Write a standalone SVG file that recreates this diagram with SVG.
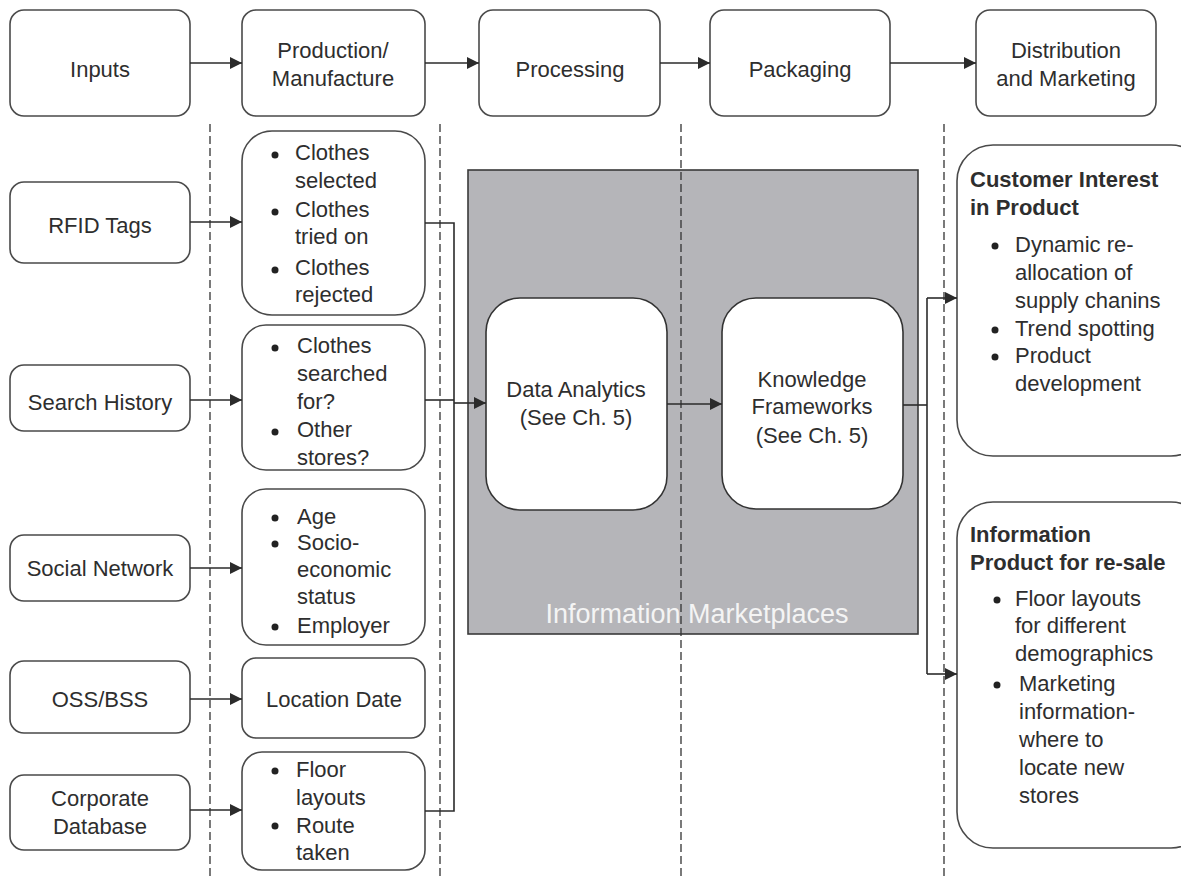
<svg xmlns="http://www.w3.org/2000/svg" width="1181" height="877" viewBox="0 0 1181 877">
<defs>
<marker id="ah" viewBox="0 0 10 10" refX="10" refY="5" markerWidth="12" markerHeight="12" markerUnits="userSpaceOnUse" orient="auto">
<path d="M0,0 L10,5 L0,10 z" fill="#2b2b2b"/>
</marker>
<style>
.box{fill:#fff;stroke:#4a4a4a;stroke-width:1.6}
.t{font-family:"Liberation Sans",Arial,sans-serif;font-size:22px;fill:#2e2e2e}
.b{font-weight:bold}
.c{text-anchor:middle}
.ln{fill:none;stroke:#2b2b2b;stroke-width:1.6}
.ar{fill:none;stroke:#2b2b2b;stroke-width:1.6;marker-end:url(#ah)}
.dash{stroke:#333;stroke-width:1.3;stroke-dasharray:8,4}
</style>
</defs>
<rect width="1181" height="877" fill="#fff"/>

<g id="infomarket">
<rect x="468" y="170" width="450" height="464" fill="#b5b5b9" stroke="#3a3a3a" stroke-width="1.6"/>
<text class="t c" x="697" y="623" style="font-size:27px;fill:#f4f4f4">Information Marketplaces</text>
</g>

<g id="dashed">
<line class="dash" x1="210" y1="124" x2="210" y2="877"/>
<line class="dash" x1="440" y1="124" x2="440" y2="877"/>
<line class="dash" x1="681" y1="124" x2="681" y2="877"/>
<line class="dash" x1="944" y1="124" x2="944" y2="877"/>
</g>

<g id="inputs"><rect class="box" x="10" y="10" width="180" height="106" rx="14"/><text class="t c" x="100" y="77">Inputs</text></g>
<g id="production"><rect class="box" x="242" y="10" width="183" height="106" rx="14"/><text class="t c" x="333" y="58">Production/</text><text class="t c" x="333" y="86">Manufacture</text></g>
<g id="processing"><rect class="box" x="479" y="10" width="181" height="106" rx="14"/><text class="t c" x="570" y="77">Processing</text></g>
<g id="packaging"><rect class="box" x="710" y="10" width="180" height="106" rx="14"/><text class="t c" x="800" y="77">Packaging</text></g>
<g id="distribution"><rect class="box" x="976" y="10" width="180" height="106" rx="14"/><text class="t c" x="1066" y="58">Distribution</text><text class="t c" x="1066" y="86">and Marketing</text></g>

<g id="rfid"><rect class="box" x="10" y="182" width="180" height="81" rx="14"/><text class="t c" x="100" y="233">RFID Tags</text></g>
<g id="search"><rect class="box" x="10" y="365" width="180" height="66" rx="14"/><text class="t c" x="100" y="410">Search History</text></g>
<g id="social"><rect class="box" x="10" y="535" width="180" height="66" rx="14"/><text class="t c" x="100" y="576">Social Network</text></g>
<g id="oss"><rect class="box" x="10" y="661" width="180" height="72" rx="14"/><text class="t c" x="100" y="707">OSS/BSS</text></g>
<g id="corpdb"><rect class="box" x="10" y="775" width="180" height="75" rx="14"/><text class="t c" x="100" y="806">Corporate</text><text class="t c" x="100" y="834">Database</text></g>

<g id="clothes">
<rect class="box" x="242" y="131" width="183" height="184" rx="30"/>
<circle cx="275" cy="155" r="3.5" fill="#222"/><circle cx="275" cy="212" r="3.5" fill="#222"/><circle cx="275" cy="270" r="3.5" fill="#222"/>
<text class="t" x="295" y="160">Clothes</text><text class="t" x="295" y="188">selected</text>
<text class="t" x="295" y="217">Clothes</text><text class="t" x="295" y="244">tried on</text>
<text class="t" x="295" y="275">Clothes</text><text class="t" x="295" y="302">rejected</text>
</g>
<g id="searched">
<rect class="box" x="242" y="325" width="183" height="145" rx="24"/>
<circle cx="275" cy="348" r="3.5" fill="#222"/><circle cx="275" cy="432" r="3.5" fill="#222"/>
<text class="t" x="297" y="353">Clothes</text><text class="t" x="297" y="381">searched</text><text class="t" x="297" y="409">for?</text>
<text class="t" x="297" y="437">Other</text><text class="t" x="297" y="465">stores?</text>
</g>
<g id="demographic">
<rect class="box" x="242" y="489" width="183" height="156" rx="24"/>
<circle cx="275" cy="518" r="3.5" fill="#222"/><circle cx="275" cy="544" r="3.5" fill="#222"/><circle cx="275" cy="627" r="3.5" fill="#222"/>
<text class="t" x="297" y="524">Age</text><text class="t" x="297" y="550">Socio-</text><text class="t" x="297" y="577">economic</text><text class="t" x="297" y="604">status</text><text class="t" x="297" y="633">Employer</text>
</g>
<g id="location"><rect class="box" x="242" y="658" width="183" height="80" rx="14"/><text class="t c" x="334" y="707">Location Date</text></g>
<g id="floor">
<rect class="box" x="242" y="752" width="183" height="118" rx="20"/>
<circle cx="275" cy="771" r="3.5" fill="#222"/><circle cx="275" cy="826" r="3.5" fill="#222"/>
<text class="t" x="296" y="777">Floor</text><text class="t" x="296" y="805">layouts</text>
<text class="t" x="296" y="833">Route</text><text class="t" x="296" y="860">taken</text>
</g>

<g id="analytics"><rect x="486" y="298" width="181" height="212" rx="34" fill="#fff" stroke="#333" stroke-width="1.6"/><text class="t c" x="576" y="397">Data Analytics</text><text class="t c" x="576" y="425">(See Ch. 5)</text></g>
<g id="knowledge"><rect x="722" y="298" width="181" height="211" rx="34" fill="#fff" stroke="#333" stroke-width="1.6"/><text class="t c" x="812" y="387">Knowledge</text><text class="t c" x="812" y="414">Frameworks</text><text class="t c" x="812" y="443">(See Ch. 5)</text></g>

<g id="customer">
<rect class="box" x="957" y="145" width="250" height="311" rx="36"/>
<text class="t b" x="970" y="187">Customer Interest</text><text class="t b" x="970" y="215">in Product</text>
<circle cx="995" cy="246" r="3.5" fill="#222"/><circle cx="995" cy="330" r="3.5" fill="#222"/><circle cx="995" cy="357" r="3.5" fill="#222"/>
<text class="t" x="1015" y="252">Dynamic re-</text><text class="t" x="1015" y="280">allocation of</text><text class="t" x="1015" y="308">supply chanins</text>
<text class="t" x="1015" y="336">Trend spotting</text><text class="t" x="1015" y="363">Product</text><text class="t" x="1015" y="391">development</text>
</g>
<g id="infoproduct">
<rect class="box" x="957" y="502" width="250" height="346" rx="36"/>
<text class="t b" x="970" y="542">Information</text><text class="t b" x="970" y="570">Product for re-sale</text>
<circle cx="997" cy="600" r="3.5" fill="#222"/><circle cx="997" cy="685" r="3.5" fill="#222"/>
<text class="t" x="1015" y="606">Floor layouts</text><text class="t" x="1015" y="633">for different</text><text class="t" x="1015" y="661">demographics</text>
<text class="t" x="1019" y="691">Marketing</text><text class="t" x="1019" y="719">information-</text><text class="t" x="1019" y="747">where to</text><text class="t" x="1019" y="775">locate new</text><text class="t" x="1019" y="803">stores</text>
</g>

<g id="connectors">
<line class="ar" x1="190" y1="63" x2="242" y2="63"/>
<line class="ar" x1="425" y1="63" x2="479" y2="63"/>
<line class="ar" x1="660" y1="63" x2="710" y2="63"/>
<line class="ar" x1="890" y1="63" x2="976" y2="63"/>
<line class="ar" x1="190" y1="222" x2="242" y2="222"/>
<line class="ar" x1="190" y1="400" x2="242" y2="400"/>
<line class="ar" x1="190" y1="568" x2="242" y2="568"/>
<line class="ar" x1="190" y1="699" x2="242" y2="699"/>
<line class="ar" x1="190" y1="810" x2="242" y2="810"/>
<polyline class="ln" points="425,223 454,223 454,811 425,811"/>
<line class="ln" x1="425" y1="400" x2="454" y2="400"/>
<line class="ar" x1="454" y1="403" x2="486" y2="403"/>
<line class="ar" x1="667" y1="404" x2="722" y2="404"/>
<line class="ln" x1="903" y1="405" x2="927" y2="405"/>
<line class="ar" x1="927" y1="298" x2="957" y2="298"/>
<line class="ar" x1="927" y1="674" x2="957" y2="674"/>
<line class="ln" x1="927" y1="298" x2="927" y2="674"/>
</g>
</svg>
